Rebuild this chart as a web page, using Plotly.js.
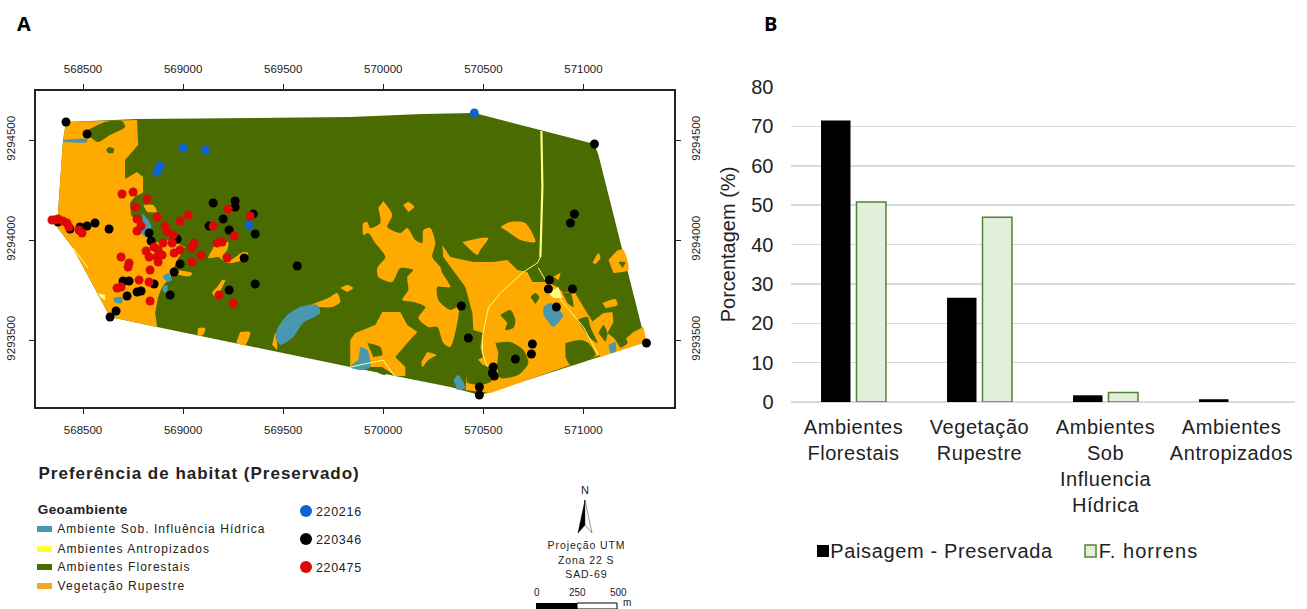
<!DOCTYPE html>
<html><head><meta charset="utf-8">
<script src="https://cdn.plot.ly/plotly-3.0.1.min.js"></script>
<style>html,body{margin:0;padding:0;background:#fff}#c{width:1307px;height:609px}
.x2tick text{letter-spacing:.55px}
.annotation[data-index="2"] text{letter-spacing:1px}
.annotation[data-index="3"] text{letter-spacing:.4px}
.annotation[data-index="4"] text,.annotation[data-index="5"] text,.annotation[data-index="6"] text,.annotation[data-index="7"] text{letter-spacing:1.05px}
.annotation[data-index="9"] text,.annotation[data-index="10"] text,.annotation[data-index="11"] text{letter-spacing:.9px}
.annotation[data-index="16"] text,.annotation[data-index="17"] text,.annotation[data-index="18"] text{letter-spacing:.7px}
.annotation[data-index="19"] text{letter-spacing:.65px}
.annotation[data-index="20"] text{letter-spacing:1.05px}
</style>
</head><body><div id="c"></div>
<script>
// ---- Chart B data
const categories = ['Ambientes<br>Florestais','Vegetação<br>Rupestre','Ambientes<br>Sob<br>Influencia<br>Hídrica','Ambientes<br>Antropizados'];
const paisagem = [71.5, 26.5, 1.7, 0.7];
const horrens = [50.8, 46.9, 2.4, null];
const barTicks = [0,10,20,30,40,50,60,70,80];

// ---- Chart A data: metres east / north of the grid point below
const E0 = 568000, N0 = 9293000;
const xTicks = [568500,569000,569500,570000,570500,571000];
const yTicks = [9293500,9294000,9294500];

const studyArea = [[[415,1590],[770,1605],[1835,1615],[2195,1630],[2455,1635],[2795,1545],[3055,1480],[3075,1425],[3310,490],[2520,235],[2480,225],[2335,265],[1835,365],[870,565],[635,615],[595,690],[450,960],[370,1065],[400,1500]]];

// Vegetação Rupestre patches that reach the study-area edge
const rupestreEdge = [
 [[770,1600],[775,1475],[710,1400],[710,1305],[770,1340],[800,1315],[800,1240],[735,1185],[740,1125],[810,1035],[850,985],[935,1000],[1010,965],[970,900],[935,815],[895,765],[875,715],[860,635],[870,565],[635,615],[595,690],[450,960],[370,1065],[400,1500],[415,1590]],
 [[1860,535],[1960,575],[1995,640],[2085,640],[2120,575],[2170,540],[2120,485],[2060,415],[2110,365],[2110,320],[2060,320],[1995,365],[1835,365],[1835,500]],
 [[2295,975],[2335,915],[2450,890],[2550,890],[2620,900],[2670,850],[2720,840],[2745,790],[2820,790],[2870,765],[2900,735],[2950,750],[3000,665],[3050,585],[3075,485],[3085,425],[2935,375],[2535,235],[2410,250],[2420,350],[2450,390],[2500,415],[2485,465],[2500,535],[2450,550],[2445,635],[2410,765],[2350,850],[2300,915]],
 [[3035,585],[3100,635],[3145,640],[3150,590],[3120,535],[3185,485],[3250,540],[3300,565],[3315,490],[3085,415]]
];
const rupestre = [
 [[2000,1195],[2045,1125],[2020,1065],[2085,1035],[2120,1060],[2160,1000],[2195,985],[2200,1050],[2235,1060],[2260,985],[2245,915],[2285,865],[2295,835],[2335,765],[2270,765],[2275,700],[2335,650],[2375,665],[2375,615],[2335,465],[2300,485],[2270,565],[2225,565],[2175,610],[2210,665],[2150,690],[2095,700],[2125,750],[2120,815],[2150,850],[2085,860],[2045,790],[1975,815],[1970,860],[2010,915],[1960,985],[1925,1035],[1900,1025],[1900,1085],[1920,1090],[1935,1060],[1985,1085],[1975,1160]],
 [[975,850],[1045,835],[1035,820],[975,825]],
 [[1160,985],[1225,990],[1220,950],[1195,915],[1235,900],[1300,940],[1325,935],[1300,900],[1220,885],[1175,915],[1125,910],[1145,950]],
 [[1195,800],[1210,800],[1185,735],[1200,715],[1170,710],[1145,735],[1170,765]],
 [[1785,760],[1820,775],[1850,760],[1820,740]],
 [[1635,675],[1725,710],[1770,735],[1785,690],[1745,665],[1670,665]],
 [[1445,475],[1460,535],[1470,485],[1470,450]],
 [[1075,560],[1110,560],[1100,525],[1070,520]],
 [[1285,540],[1335,540],[1310,475],[1265,485]],
 [[2220,440],[2265,425],[2225,400],[2195,365],[2190,390]],
 [[3125,900],[3175,950],[3200,950],[3225,850],[3150,835]],
 [[3045,885],[3075,935],[3085,910],[3060,880]],
 [[2395,990],[2525,1010],[2485,950],[2470,925],[2425,960]],
 [[2585,1065],[2635,1090],[2710,1085],[2760,990],[2685,1000],[2625,1040]],
 [[2100,1175],[2125,1190],[2155,1165],[2125,1140]],
 [[3095,685],[3160,705],[3170,675],[3110,660]],
 [[2850,815],[2885,835],[2875,800]]
];
const florestais = [
 [[525,1550],[610,1590],[695,1595],[710,1565],[635,1525],[575,1490],[535,1515]],
 [[615,1450],[630,1465],[655,1455],[650,1435],[625,1435]],
 [[735,1185],[770,1225],[820,1225],[810,1185],[860,1140],[900,1115],[935,1050],[910,1015],[850,1050],[800,1135],[745,1125]],
 [[1920,485],[1985,465],[1995,425],[1950,415]],
 [[1975,350],[2010,340],[2010,325],[1975,335]],
 [[2410,350],[2460,410],[2500,375],[2535,365],[2570,335],[2535,290],[2485,275],[2420,285]],
 [[2560,485],[2635,490],[2700,450],[2725,385],[2675,325],[2585,310],[2570,365],[2575,435]],
 [[2585,625],[2635,650],[2660,600],[2650,560],[2610,550],[2620,585]],
 [[2735,715],[2760,735],[2780,715],[2760,680]],
 [[2910,485],[2985,500],[3025,485],[3060,425],[2935,375],[2910,415]],
 [[2895,735],[2935,735],[2950,665],[2920,685]],
 [[2970,600],[3020,615],[3035,565],[3070,485],[3025,515]],
 [[3075,535],[3100,575],[3120,535],[3110,490]],
 [[3150,515],[3195,535],[3220,485],[3185,460]],
 [[3175,890],[3210,890],[3195,860]]
];
const rupestreInner = [
 [[800,1175],[850,1175],[870,1140],[820,1140]]
];
const hidrica = [
 [[400,1500],[520,1505],[520,1490],[400,1490]],
 [[795,1135],[835,1085],[845,1015],[810,1015],[770,1065],[800,1085]],
 [[895,815],[925,835],[945,800],[920,790]],
 [[895,765],[920,775],[920,735],[900,740]],
 [[650,710],[695,715],[695,685],[660,685]],
 [[1470,560],[1520,625],[1585,665],[1670,675],[1685,635],[1600,585],[1550,515],[1485,475],[1460,515]],
 [[1885,465],[1920,450],[1935,365],[1885,350],[1835,365],[1875,400]],
 [[2800,665],[2835,685],[2875,650],[2900,625],[2850,565],[2825,590],[2800,625]],
 [[3125,475],[3160,490],[3160,440],[3135,435]],
 [[2350,300],[2375,325],[2410,260],[2370,250]]
];
const antropizadosPatches = [
 [[2825,735],[2875,765],[2895,710],[2850,710]],
 [[575,735],[610,725],[610,700],[590,710]]
];
const roadMain = [[2790,1545],[2795,1265],[2785,915]];
const roadBranches = [
 [[2785,915],[2770,885],[2700,840],[2585,735],[2525,660],[2495,515],[2495,435],[2520,365]],
 [[2775,860],[2810,800],[2900,685],[3000,565],[3075,425]],
 [[1835,365],[1920,385],[2000,400],[2060,315]],
 [[450,960],[525,860]]
];

const pts220216 = [[1000,1460],[1110,1450],[885,1370],[870,1340],[1330,1075],[2455,1635]];
const pts220346 = [[415,1590],[520,1530],[1150,1185],[1260,1195],[1260,1165],[1350,1130],[1200,1105],[1130,1070],[1230,1050],[1360,1030],[830,1035],[840,995],[970,1005],[985,880],[955,840],[1305,910],[1570,870],[1360,780],[1230,750],[935,725],[855,780],[790,745],[770,740],[720,720],[700,795],[730,795],[665,645],[635,615],[630,1055],[560,1085],[520,1070],[485,1065],[435,1055],[375,1090],[3055,1480],[2955,1130],[2935,1085],[2830,800],[2825,755],[2945,755],[2865,665],[2390,670],[2425,510],[2745,480],[2740,430],[2660,405],[2550,365],[2545,335],[2555,320],[2480,265],[2480,225],[3315,485]];
const pts220475 = [[695,1230],[750,1240],[820,1205],[760,1165],[770,1105],[790,1070],[770,1045],[870,1115],[910,1070],[920,1040],[950,1025],[985,1095],[1025,1125],[1225,1155],[1335,1120],[1150,1070],[1255,1020],[1055,985],[1045,960],[1170,985],[1195,990],[1090,925],[1045,890],[1220,910],[985,950],[955,935],[945,985],[900,985],[855,965],[815,945],[830,915],[875,950],[895,925],[870,915],[875,890],[690,915],[730,885],[725,865],[835,850],[780,800],[830,790],[690,765],[670,760],[835,695],[1180,725],[1250,685],[345,1100],[360,1100],[375,1105],[400,1095],[420,1085],[430,1065],[480,1050],[495,1035]];

const geoLegend = ['Ambiente Sob. Influência Hídrica','Ambientes Antropizados','Ambientes Florestais','Vegetação Rupestre'];
const pointLegend = ['220216','220346','220475'];
const barLegend = ['Paisagem - Preservada','F. horrens'];
const FOREST='#4A6B00', ORANGE='#FFAA00', TEAL='#4A97B0', YELLOW='#FFFF80';
const geoColors = ['#4A97B0','#FFFF33',FOREST,'#F5A623'];
const pointColors = ['#0F62D6','#000000','#DD0808'];

// ---- helpers
const W=1307,H=609;
const fx=v=>v/W, fy=v=>1-v/H;
function flat(rings){const x=[],y=[];rings.forEach(r=>{r.forEach(p=>{x.push(E0+p[0]);y.push(N0+p[1]);});x.push(null);y.push(null);});return {x,y};}
function patch(rings,color,smooth){const f=flat(rings);return {type:'scatter',mode:'lines',x:f.x,y:f.y,fill:'toself',fillcolor:color,line:smooth?{width:0,color:color,shape:'spline',smoothing:0.7}:{width:0,color:color},hoverinfo:'skip',showlegend:false,xaxis:'x',yaxis:'y'};}
function road(rings,w){const f=flat(rings);return {type:'scatter',mode:'lines',x:f.x,y:f.y,line:{width:w,color:YELLOW},hoverinfo:'skip',showlegend:false,xaxis:'x',yaxis:'y'};}
function pts(p,name,color){return {type:'scatter',mode:'markers',x:p.map(a=>E0+a[0]),y:p.map(a=>N0+a[1]),name:name,showlegend:false,marker:{size:9,color:color,line:{width:0}},xaxis:'x',yaxis:'y'};}

const FONT='"Liberation Sans", Arial, sans-serif';
const traces=[
 patch(studyArea,FOREST,false),
 patch(rupestreEdge,ORANGE,false),
 patch(rupestre,ORANGE,true),
 patch(florestais,FOREST,true),
 patch(rupestreInner,ORANGE,true),
 patch(hidrica,TEAL,true),
 patch(antropizadosPatches,YELLOW,false),
 road([roadMain],2.2),
 road(roadBranches,1),
 pts(pts220216,pointLegend[0],pointColors[0]),
 pts(pts220346,pointLegend[1],pointColors[1]),
 pts(pts220475,pointLegend[2],pointColors[2]),
 {type:'scatter',mode:'markers',x:[null],y:[null],xaxis:'x3',yaxis:'y3',showlegend:false,hoverinfo:'skip'},
 {type:'bar',name:barLegend[0],x:categories,y:paisagem,xaxis:'x2',yaxis:'y2',showlegend:false,marker:{color:'#000000',line:{width:0}}},
 {type:'bar',name:barLegend[1],x:categories,y:horrens,xaxis:'x2',yaxis:'y2',showlegend:false,marker:{color:'#E2EFDA',line:{color:'#548235',width:1.5}}}
];

const mapAxisFont={family:FONT,size:11.5,color:'#222'};
const xBase={range:[568265,571450],domain:[fx(36),fx(673.5)],tickvals:xTicks,tickformat:'d',ticks:'outside',ticklen:5,tickwidth:1,tickcolor:'#222',tickfont:mapAxisFont,showgrid:false,zeroline:false,showline:true,linecolor:'#222',linewidth:2,ticklabelstandoff:6,fixedrange:true};
const yBase={range:[9293165,9294745],domain:[fy(407),fy(91)],tickvals:yTicks,tickformat:'d',tickangle:-90,ticks:'outside',ticklen:5,tickwidth:1,tickcolor:'#222',tickfont:mapAxisFont,showgrid:false,zeroline:false,showline:true,linecolor:'#222',linewidth:2,ticklabelstandoff:6,fixedrange:true};

function note(x,y,t,size,opt){return Object.assign({xref:'paper',yref:'paper',x:fx(x),y:fy(y),text:t,showarrow:false,xanchor:'left',yanchor:'middle',font:{family:FONT,size:size,color:'#222'}},opt||{});}
const letterFont={family:'"Open Sans",sans-serif',size:20,color:'#000'};
const annotations=[
 note(15,24,'<b>A</b>',20,{font:letterFont}),
 note(762,24,'<b>B</b>',20,{font:letterFont}),
 note(54,473,'<b>Preferência de habitat (Preservado)</b>',17),
 note(38,509,'<b>Geoambiente</b>',13.5),
 note(72,529,geoLegend[0],12),
 note(67,549,geoLegend[1],12),
 note(66,567,geoLegend[2],12),
 note(65,586,geoLegend[3],12),
 note(585,490,'N',11,{xanchor:'center'}),
 note(586,545,'Projeção UTM',10.5,{xanchor:'center'}),
 note(586,560,'Zona 22 S',10.5,{xanchor:'center'}),
 note(586,574,'SAD-69',10.5,{xanchor:'center'}),
 note(537,592,'0',10,{xanchor:'center'}),
 note(577,592,'250',10,{xanchor:'center'}),
 note(618,592,'500',10,{xanchor:'center'}),
 note(621,602,'m',10),
 note(316,512,pointLegend[0],12.5),
 note(316,540,pointLegend[1],12.5),
 note(316,568,pointLegend[2],12.5),
 note(835,551,barLegend[0],20),
 note(1102,551,barLegend[1],20)
];
const rect=(x0,x1,y0,y1,fill,line)=>({type:'rect',xref:'paper',yref:'paper',x0:fx(x0),x1:fx(x1),y0:fy(y1),y1:fy(y0),fillcolor:fill,line:line||{width:0}});
const swatchY=[529,549,567,586];
const shapes=swatchY.map((y,i)=>rect(37,52,y-3,y+3,geoColors[i]));
[511,539,567].forEach((y,i)=>shapes.push({type:'circle',xref:'paper',yref:'paper',x0:fx(300),x1:fx(312),y0:fy(y+6),y1:fy(y-6),fillcolor:pointColors[i],line:{width:0}}));
shapes.push(rect(536,577,603,609,'#000'));
shapes.push(rect(577,617,603,609,'#fff',{width:1,color:'#000'}));
shapes.push(rect(817,829,545,557,'#000'));
shapes.push(rect(1085,1096,545,557,'#E2EFDA',{width:1.5,color:'#548235'}));
const P=(a)=>a.map((p,i)=>(i?'L':'M')+fx(p[0])+' '+fy(p[1])).join(' ')+' Z';
shapes.push({type:'path',xref:'paper',yref:'paper',path:P([[585,500],[578,533],[585,525]]),fillcolor:'#000',line:{width:0.5,color:'#000'}});
shapes.push({type:'path',xref:'paper',yref:'paper',path:P([[585,500],[592,533],[585,525]]),fillcolor:'#fff',line:{width:0.5,color:'#333'}});

const layout={
 width:W,height:H,margin:{l:0,r:0,t:0,b:0},paper_bgcolor:'#fff',plot_bgcolor:'rgba(0,0,0,0)',
 showlegend:false,barmode:'group',bargap:0.437,bargroupgap:0.169,
 xaxis:Object.assign({},xBase,{anchor:'y',side:'bottom'}),
 yaxis:Object.assign({},yBase,{anchor:'x',side:'left',ticklabelstandoff:9}),
 xaxis3:Object.assign({},xBase,{anchor:'y',overlaying:'x',side:'top'}),
 yaxis3:Object.assign({},yBase,{anchor:'x',overlaying:'y',side:'right'}),
 xaxis2:{domain:[fx(790.5),fx(1294.5)],anchor:'y2',type:'category',tickfont:{family:FONT,size:20,color:'#222'},ticks:'',showline:false,showgrid:false,zeroline:false,fixedrange:true,automargin:false,tickangle:0,ticklabelstandoff:11},
 yaxis2:{domain:[fy(402),fy(87)],anchor:'x2',range:[0,80],tickvals:barTicks,tickfont:{family:FONT,size:20,color:'#222'},gridcolor:'#D9D9D9',gridwidth:1.5,zeroline:true,zerolinecolor:'#D9D9D9',zerolinewidth:1.5,showline:false,ticks:'',fixedrange:true,automargin:false,ticklabelstandoff:16,
   title:{text:'Porcentagem (%)',font:{family:FONT,size:20,color:'#222'},standoff:10}},
 annotations:annotations,shapes:shapes
};
Plotly.newPlot('c',traces,layout,{displayModeBar:false,staticPlot:true});
</script></body></html>
